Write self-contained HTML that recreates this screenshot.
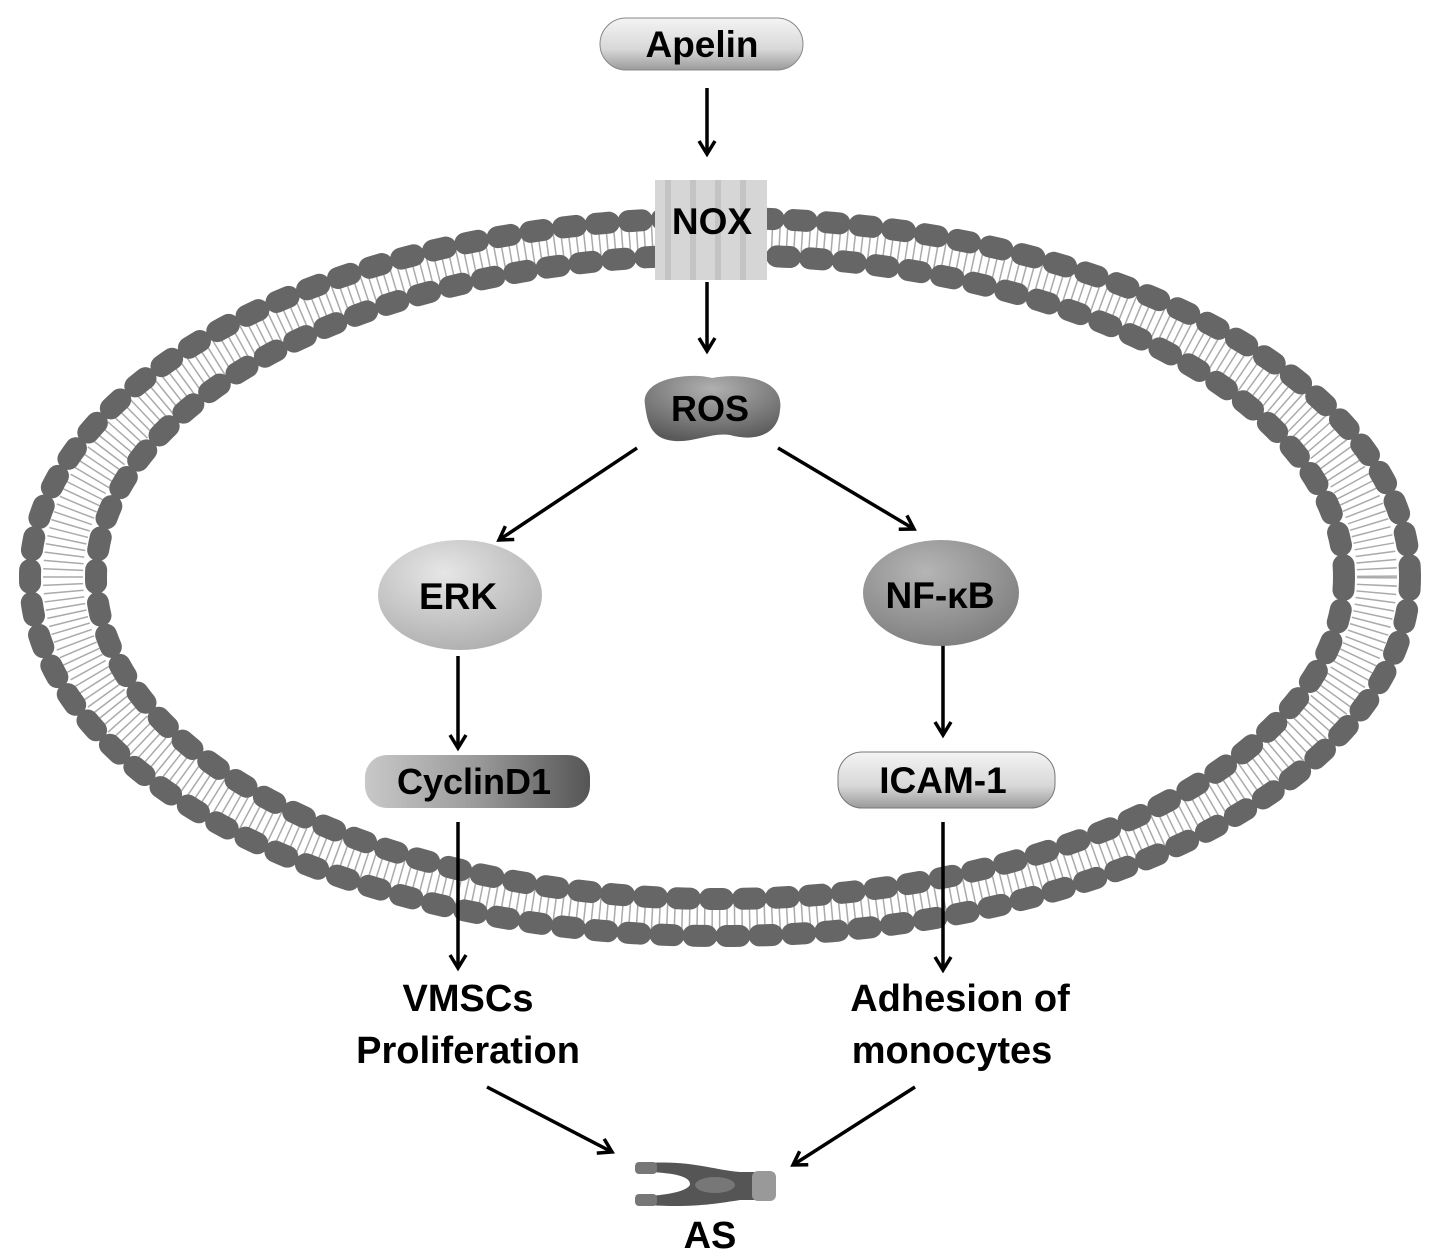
<!DOCTYPE html>
<html><head><meta charset="utf-8"><style>
html,body{margin:0;padding:0;background:#fff;}
svg{display:block;}
text{font-family:"Liberation Sans",sans-serif;font-weight:bold;fill:#000;text-anchor:middle;}
</style></head><body>
<svg width="1441" height="1259" viewBox="0 0 1441 1259" xmlns="http://www.w3.org/2000/svg">
<defs>
<linearGradient id="light" x1="0" y1="0" x2="0" y2="1"><stop offset="0" stop-color="#f4f4f4"/><stop offset="0.6" stop-color="#d8d8d8"/><stop offset="1" stop-color="#9a9a9a"/></linearGradient>
<linearGradient id="cyc" x1="0" y1="0" x2="1" y2="0"><stop offset="0" stop-color="#c8c8c8"/><stop offset="0.5" stop-color="#9a9a9a"/><stop offset="1" stop-color="#555"/></linearGradient>
<radialGradient id="erk" cx="0.4" cy="0.3" r="0.8"><stop offset="0" stop-color="#e6e6e6"/><stop offset="1" stop-color="#aaa"/></radialGradient>
<radialGradient id="nfkb" cx="0.4" cy="0.3" r="0.8"><stop offset="0" stop-color="#b5b5b5"/><stop offset="1" stop-color="#7a7a7a"/></radialGradient>
<radialGradient id="ros" cx="0.5" cy="0.2" r="0.8"><stop offset="0" stop-color="#b0b0b0"/><stop offset="1" stop-color="#5a5a5a"/></radialGradient>
<marker id="ah" markerWidth="20" markerHeight="20" refX="16" refY="10" orient="auto" markerUnits="userSpaceOnUse" viewBox="0 0 20 20"><path d="M3,2 L16,10 L3,18" fill="none" stroke="#000" stroke-width="3.5"/></marker>
</defs>
<!-- membrane -->
<g fill="none">
<ellipse cx="720" cy="577" rx="657" ry="340" stroke="#aaa" stroke-width="40" stroke-dasharray="1.5 6"/>
<ellipse cx="720" cy="577" rx="690" ry="359" stroke="#666" stroke-width="22" stroke-linecap="round" stroke-dasharray="13 20"/>
<ellipse cx="720" cy="577" rx="624" ry="322" stroke="#666" stroke-width="22" stroke-linecap="round" stroke-dasharray="13 20"/>
</g>
<!-- NOX -->
<g>
<rect x="655" y="180" width="112" height="100" fill="#d6d6d6"/>
<rect x="665" y="180" width="6" height="100" fill="#c4c4c4"/>
<rect x="690" y="180" width="6" height="100" fill="#c4c4c4"/>
<rect x="715" y="180" width="6" height="100" fill="#c4c4c4"/>
<rect x="740" y="180" width="6" height="100" fill="#c4c4c4"/>
<text x="712" y="234" font-size="37">NOX</text>
</g>
<!-- Apelin -->
<rect x="600" y="18" width="203" height="52" rx="26" fill="url(#light)" stroke="#888" stroke-width="1"/>
<text x="702" y="57" font-size="37">Apelin</text>
<g stroke="#000" stroke-width="3.5" fill="none" marker-end="url(#ah)">
<line x1="707" y1="88" x2="707" y2="154"/>
<line x1="707" y1="282" x2="707" y2="351"/>
<line x1="637" y1="448" x2="499" y2="540"/>
<line x1="778" y1="448" x2="914" y2="529"/>
<line x1="458" y1="656" x2="458" y2="748"/>
<line x1="943" y1="645" x2="943" y2="735"/>
<line x1="458" y1="822" x2="458" y2="968"/>
<line x1="943" y1="822" x2="943" y2="970"/>
<line x1="487" y1="1087" x2="612" y2="1152"/>
<line x1="915" y1="1087" x2="793" y2="1165"/>
</g>
<!-- ROS -->
<path d="M645,405 C640,378 690,372 712,378 C745,372 785,380 780,410 C778,435 755,442 730,435 C710,432 690,445 668,440 C650,436 647,420 645,405 Z" fill="url(#ros)"/>
<text x="710" y="421" font-size="36">ROS</text>
<ellipse cx="460" cy="595" rx="82" ry="55" fill="url(#erk)"/>
<text x="458" y="609" font-size="37">ERK</text>
<ellipse cx="941" cy="593" rx="78" ry="53" fill="url(#nfkb)"/>
<text x="940" y="608" font-size="37">NF-κB</text>
<rect x="365" y="755" width="225" height="53" rx="22" fill="url(#cyc)"/>
<text x="474" y="794" font-size="36">CyclinD1</text>
<rect x="838" y="752" width="217" height="56" rx="24" fill="url(#light)" stroke="#777" stroke-width="1"/>
<text x="943" y="793" font-size="37">ICAM-1</text>
<text x="468" y="1011" font-size="38">VMSCs</text>
<text x="468" y="1063" font-size="38">Proliferation</text>
<text x="960" y="1011" font-size="38">Adhesion of</text>
<text x="952" y="1063" font-size="38">monocytes</text>
<!-- vessel -->
<g>
<path d="M648,1163 C690,1160 715,1170 740,1172 L768,1172 L768,1200 L740,1200 C715,1204 690,1208 648,1205 L648,1196 C680,1194 690,1188 690,1184 C690,1178 680,1173 648,1172 Z" fill="#555"/>
<rect x="635" y="1162" width="22" height="12" rx="4" fill="#777"/>
<rect x="635" y="1194" width="22" height="12" rx="4" fill="#777"/>
<rect x="752" y="1171" width="24" height="30" rx="6" fill="#999"/>
<ellipse cx="715" cy="1185" rx="20" ry="8" fill="#777"/>
</g>
<text x="710" y="1248" font-size="38">AS</text>
</svg>
</body></html>
